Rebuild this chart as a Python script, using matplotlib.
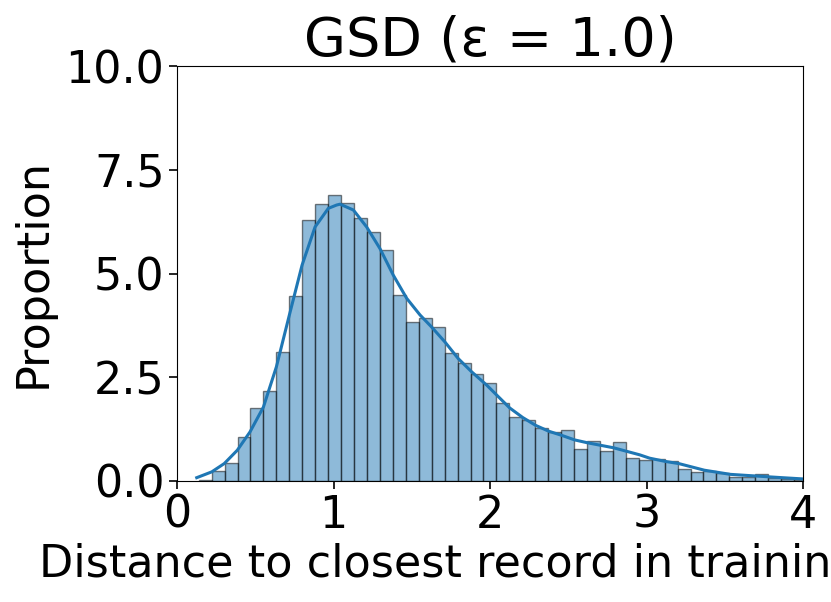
import numpy as np
import matplotlib
matplotlib.use("Agg")
from matplotlib import pyplot as plt

# histogram of distances (bin heights)
bin_start = 0.1387
bin_width = 0.0827
heights = [0.03, 0.24, 0.44, 1.07, 1.75, 2.17, 3.12, 4.46, 6.28, 6.68,
           6.89, 6.70, 6.33, 6.01, 5.56, 4.48, 3.84, 3.93, 3.71, 3.09,
           2.85, 2.57, 2.35, 1.89, 1.55, 1.47, 1.28, 1.17, 1.23, 0.78,
           0.97, 0.72, 0.93, 0.56, 0.50, 0.52, 0.47, 0.30, 0.22, 0.24,
           0.19, 0.10, 0.10, 0.17, 0.07, 0.04, 0.02]

# kde line
kde_x = [0.126, 0.222, 0.302, 0.385, 0.466, 0.552, 0.635, 0.718, 0.799, 0.882,
         0.967, 1.020, 1.042, 1.127, 1.212, 1.297, 1.382, 1.468, 1.553, 1.627,
         1.712, 1.797, 1.883, 1.979, 2.043, 2.126, 2.209, 2.292, 2.375, 2.458,
         2.541, 2.624, 2.790, 2.957, 3.020, 3.123, 3.206, 3.370, 3.536, 3.700,
         3.868, 4.000]
kde_y = [0.08, 0.22, 0.42, 0.74, 1.18, 1.78, 2.75, 4.00, 5.20, 6.12,
         6.57, 6.65, 6.67, 6.53, 6.12, 5.60, 4.96, 4.40, 4.00, 3.71,
         3.35, 2.95, 2.63, 2.31, 2.07, 1.76, 1.53, 1.34, 1.20, 1.10,
         0.99, 0.92, 0.80, 0.63, 0.55, 0.47, 0.42, 0.26, 0.16, 0.12,
         0.08, 0.05]

x_ticks = [0, 1, 2, 3, 4]
y_ticks = [0.0, 2.5, 5.0, 7.5, 10.0]

fig = plt.figure(figsize=(8.31, 6.02), dpi=100)
ax = fig.add_axes([177 / 831, 1 - 481 / 602, 626 / 831, 415 / 602])

lefts = bin_start + bin_width * np.arange(len(heights))
ax.bar(lefts, heights, width=bin_width, align="edge", color="#1f77b4",
       alpha=0.5, edgecolor="black", linewidth=1)
ax.plot(kde_x, kde_y, color="#1f77b4", lw=2.2)

ax.set_xlim(0, 4)
ax.set_ylim(0, 10)
ax.set_xticks(x_ticks)
ax.set_yticks(y_ticks)
ax.set_yticklabels(["%.1f" % v for v in y_ticks])
ax.tick_params(labelsize=32, length=6, width=1.2, pad=3)
ax.set_title("GSD (\u03b5 = 1.0)", fontsize=39, pad=6)
ax.set_xlabel("Distance to closest record in training set", fontsize=32, labelpad=5)
ax.set_ylabel("Proportion", fontsize=32, labelpad=8)

fig.savefig("out.png", dpi=100)
